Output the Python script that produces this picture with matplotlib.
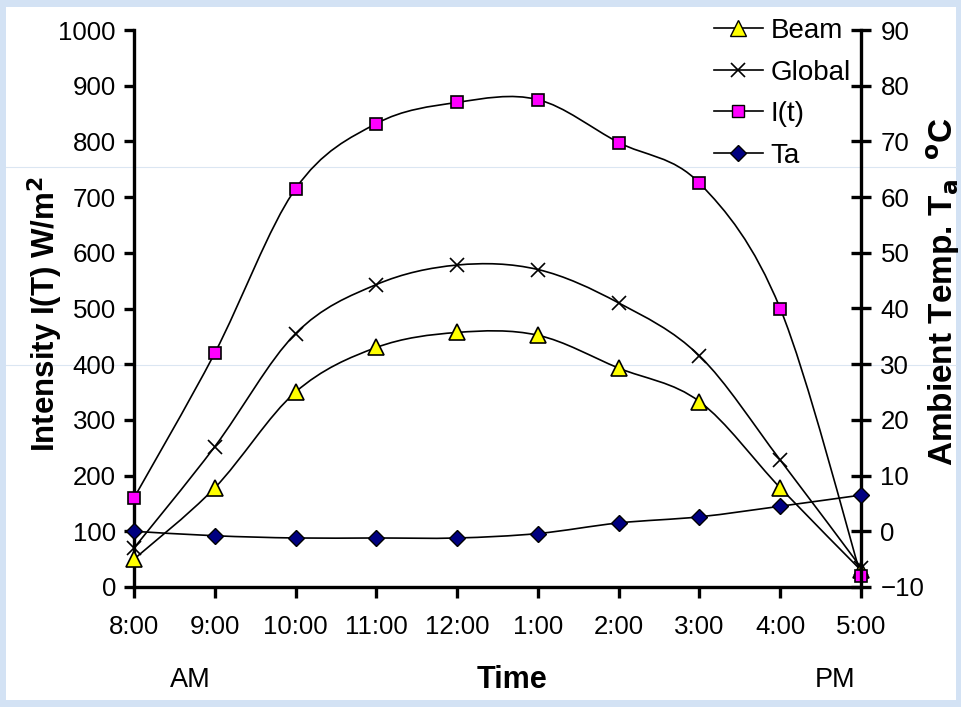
import numpy as np
import matplotlib
matplotlib.use("Agg")
import matplotlib.pyplot as plt
from matplotlib.path import Path
from matplotlib.patches import PathPatch, Rectangle
from matplotlib.lines import Line2D

plt.rcParams['font.family'] = ['Liberation Sans', 'DejaVu Sans']

# data
times = ["8:00", "9:00", "10:00", "11:00", "12:00", "1:00", "2:00", "3:00", "4:00", "5:00"]
beam = [50, 178, 350, 430, 457, 452, 393, 333, 178, 30]
global_ = [70, 252, 455, 543, 578, 570, 510, 415, 228, 35]
intensity = [160, 420, 715, 832, 870, 875, 798, 725, 500, 20]
ta = [0.0, -0.8, -1.2, -1.2, -1.2, -0.4, 1.5, 2.6, 4.5, 6.5]


def smooth_path(x, y):
    """Excel-like smoothed line as cubic bezier segments (Catmull-Rom, 1/6)."""
    x = np.asarray(x, float)
    y = np.asarray(y, float)
    pts = np.column_stack([x, y])
    n = len(pts)
    verts = [pts[0]]
    codes = [Path.MOVETO]
    for i in range(n - 1):
        p0 = pts[i - 1] if i > 0 else pts[i]
        p1 = pts[i]
        p2 = pts[i + 1]
        p3 = pts[i + 2] if i + 2 < n else pts[i + 1]
        c1 = p1 + (p2 - p0) / 6.0
        c2 = p2 - (p3 - p1) / 6.0
        verts += [c1, c2, p2]
        codes += [Path.CURVE4] * 3
    return Path(verts, codes)


fig = plt.figure(figsize=(9.62, 7.07), dpi=100)
fig.patch.set_facecolor('#d3e2f4')
fig.patches.append(Rectangle((6 / 962, 1 - 700 / 707), 950 / 962, 693 / 707,
                             transform=fig.transFigure, facecolor='white',
                             edgecolor='none', zorder=-10))
# faint background streaks
for yy in (167, 365):
    fig.lines.append(Line2D([6 / 962, 956 / 962], [1 - yy / 707] * 2,
                            transform=fig.transFigure, color='#dbe6f2',
                            lw=0.8, zorder=-5))

ax = fig.add_axes([134 / 962, 1 - 587 / 707, (861 - 134) / 962, (587 - 30) / 707])
ax.patch.set_alpha(0)
ax2 = ax.twinx()
ax2.patch.set_alpha(0)

xs = np.arange(len(times))

series = [
    (beam, '^', '#ffff00', 11),
    (global_, 'x', 'black', 10),
    (intensity, 's', '#ff00ff', 8.5),
]
for vals, mk, col, ms in series:
    ax.add_patch(PathPatch(smooth_path(xs, vals), facecolor='none',
                           edgecolor='black', lw=1.2, zorder=2))
    ax.plot(xs, vals, linestyle='none', marker=mk, markersize=ms,
            markerfacecolor=col, markeredgecolor='black',
            markeredgewidth=1.2, clip_on=False, zorder=3)

ax2.add_patch(PathPatch(smooth_path(xs, ta), facecolor='none',
                        edgecolor='black', lw=1.2, zorder=2))
ax2.plot(xs, ta, linestyle='none', marker='D', markersize=8,
         markerfacecolor='#000080', markeredgecolor='black',
         markeredgewidth=1.0, clip_on=False, zorder=3)

ax.set_xlim(0, len(times) - 1)
ax.set_ylim(0, 1000)
ax.set_yticks(np.arange(0, 1001, 100))
ax.set_xticks(xs)
ax.set_xticklabels(times)
ax2.set_ylim(-10, 90)
ax2.set_yticks(np.arange(-10, 91, 10))

for a in (ax, ax2):
    for s in a.spines.values():
        s.set_visible(False)
ax.spines['left'].set_visible(True)
ax.spines['bottom'].set_visible(True)
ax2.spines['right'].set_visible(True)
for s in (ax.spines['left'], ax.spines['bottom'], ax2.spines['right']):
    s.set_linewidth(2.4)
    s.set_zorder(1)

ax.tick_params(axis='y', direction='out', length=7, width=2.4, labelsize=18.6, pad=6)
ax.tick_params(axis='x', direction='out', length=8, width=2.4, labelsize=18.6, pad=12)
ax2.tick_params(axis='y', direction='inout', length=14, width=2.4, labelsize=18.6, pad=7)

fig.text(45 / 962, 1 - 314 / 707, 'Intensity I(T) W/m$^{\\mathbf{2}}$', rotation=90,
         ha='center', va='center', fontsize=22.5, fontweight='bold')
fig.text(943 / 962, 1 - 292 / 707, 'Ambient Temp. T$_{\\mathbf{a}}$  $^{\\mathbf{o}}$C',
         rotation=90, ha='center', va='center', fontsize=24, fontweight='bold')
fig.text(512 / 962, 1 - 680 / 707, 'Time', ha='center', va='center',
         fontsize=22, fontweight='bold')
fig.text(190 / 962, 1 - 680 / 707, 'AM', ha='center', va='center', fontsize=19.5)
fig.text(835 / 962, 1 - 680 / 707, 'PM', ha='center', va='center', fontsize=19.5)

handles = [
    Line2D([], [], color='black', lw=1.2, marker='^', markersize=11,
           markerfacecolor='#ffff00', markeredgecolor='black'),
    Line2D([], [], color='black', lw=1.2, marker='x', markersize=10,
           markeredgecolor='black', markeredgewidth=1.2),
    Line2D([], [], color='black', lw=1.2, marker='s', markersize=8.5,
           markerfacecolor='#ff00ff', markeredgecolor='black'),
    Line2D([], [], color='black', lw=1.2, marker='D', markersize=8,
           markerfacecolor='#000080', markeredgecolor='black'),
]
leg = ax2.legend(handles, ['Beam', 'Global', 'I(t)', 'Ta'], loc='upper left',
                 bbox_to_anchor=(714 / 962, 1 - 18 / 707),
                 bbox_transform=fig.transFigure, frameon=False, fontsize=20,
                 borderpad=0, borderaxespad=0, handlelength=1.75,
                 handletextpad=0.28, labelspacing=0.56)

fig.savefig('out.png', dpi=100, facecolor=fig.get_facecolor())
